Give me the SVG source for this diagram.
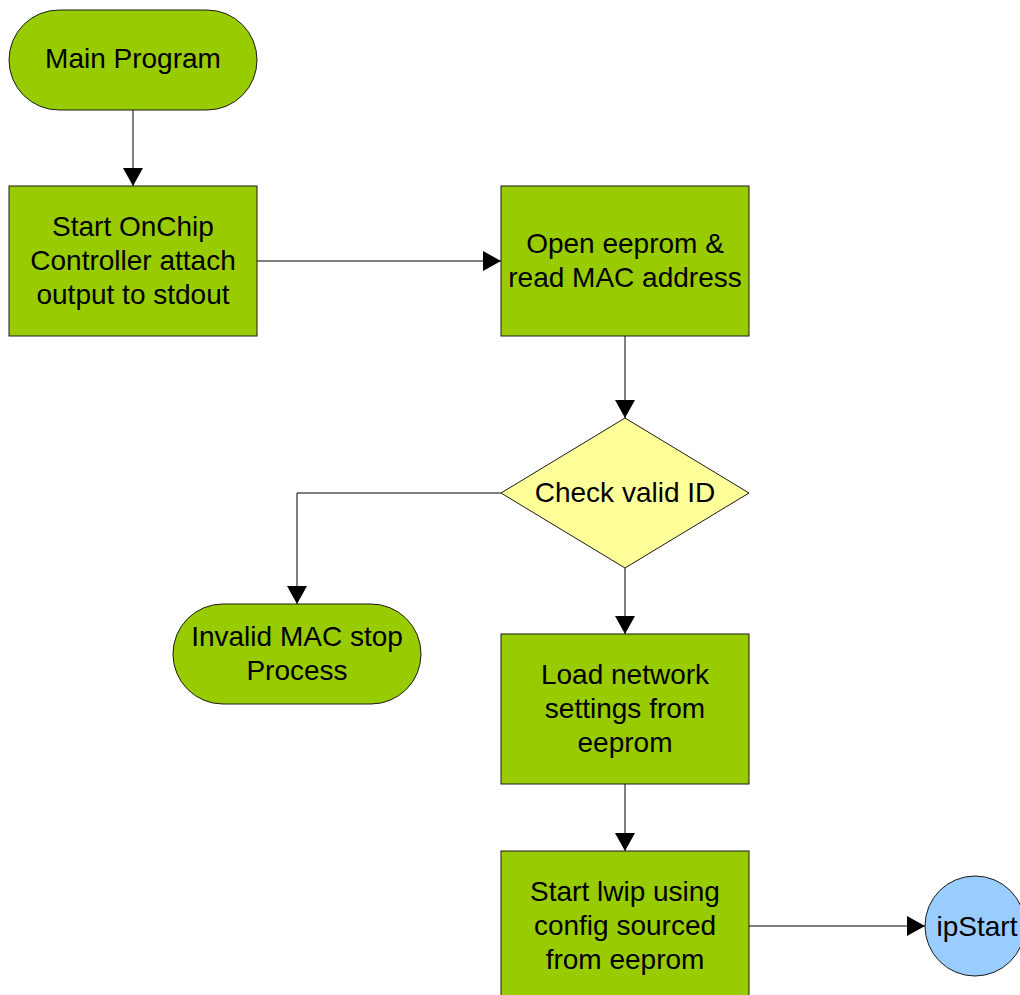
<svg xmlns="http://www.w3.org/2000/svg" width="1020" height="995" viewBox="0 0 1020 995">
<style>
.g{fill:#99cc00;stroke:#1a1a1a;stroke-width:1}
.y{fill:#ffff99;stroke:#1a1a1a;stroke-width:1}
.b{fill:#99ccff;stroke:#1a1a1a;stroke-width:1}
text{font-family:"Liberation Sans",Arial,sans-serif;font-size:28px;fill:#000;text-anchor:middle}
.c{fill:none;stroke:#000;stroke-width:1;marker-end:url(#ah)}
</style>
<defs>
<marker id="ah" markerUnits="userSpaceOnUse" markerWidth="20" markerHeight="20" refX="18" refY="10" orient="auto">
<path d="M0,0 L18,10 L0,20 Z" fill="#000"/>
</marker>
</defs>
<rect width="1020" height="995" fill="#fff"/>
<g id="connectors">
<path class="c" d="M133,110 V186"/>
<path class="c" d="M257,261 H501"/>
<path class="c" d="M625,336 V418"/>
<path class="c" d="M501,493 H297 V604"/>
<path class="c" d="M625,568 V634"/>
<path class="c" d="M625,784 V851"/>
<path class="c" d="M749,926 H925"/>
</g>
<g id="main">
<rect class="g" x="9" y="10" width="248" height="100" rx="50" ry="50"/>
<text x="133" y="68">Main Program</text>
</g>
<g id="start-onchip">
<rect class="g" x="9" y="186" width="248" height="150"/>
<text x="133" y="236">Start OnChip</text>
<text x="133" y="270">Controller attach</text>
<text x="133" y="304">output to stdout</text>
</g>
<g id="open-eeprom">
<rect class="g" x="501" y="186" width="248" height="150"/>
<text x="625" y="253">Open eeprom &amp;</text>
<text x="625" y="287">read MAC address</text>
</g>
<g id="check-id">
<path class="y" d="M625,418 L749,493 L625,568 L501,493 Z"/>
<text x="625" y="502">Check valid ID</text>
</g>
<g id="invalid">
<rect class="g" x="173" y="604" width="248" height="100" rx="50" ry="50"/>
<text x="297" y="646">Invalid MAC stop</text>
<text x="297" y="680">Process</text>
</g>
<g id="load-network">
<rect class="g" x="501" y="634" width="248" height="150"/>
<text x="625" y="684">Load network</text>
<text x="625" y="718">settings from</text>
<text x="625" y="752">eeprom</text>
</g>
<g id="start-lwip">
<rect class="g" x="501" y="851" width="248" height="150"/>
<text x="625" y="901">Start lwip using</text>
<text x="625" y="935">config sourced</text>
<text x="625" y="969">from eeprom</text>
</g>
<g id="ipstart">
<circle class="b" cx="975" cy="926" r="50"/>
<text x="977" y="936">ipStart</text>
</g>
</svg>
